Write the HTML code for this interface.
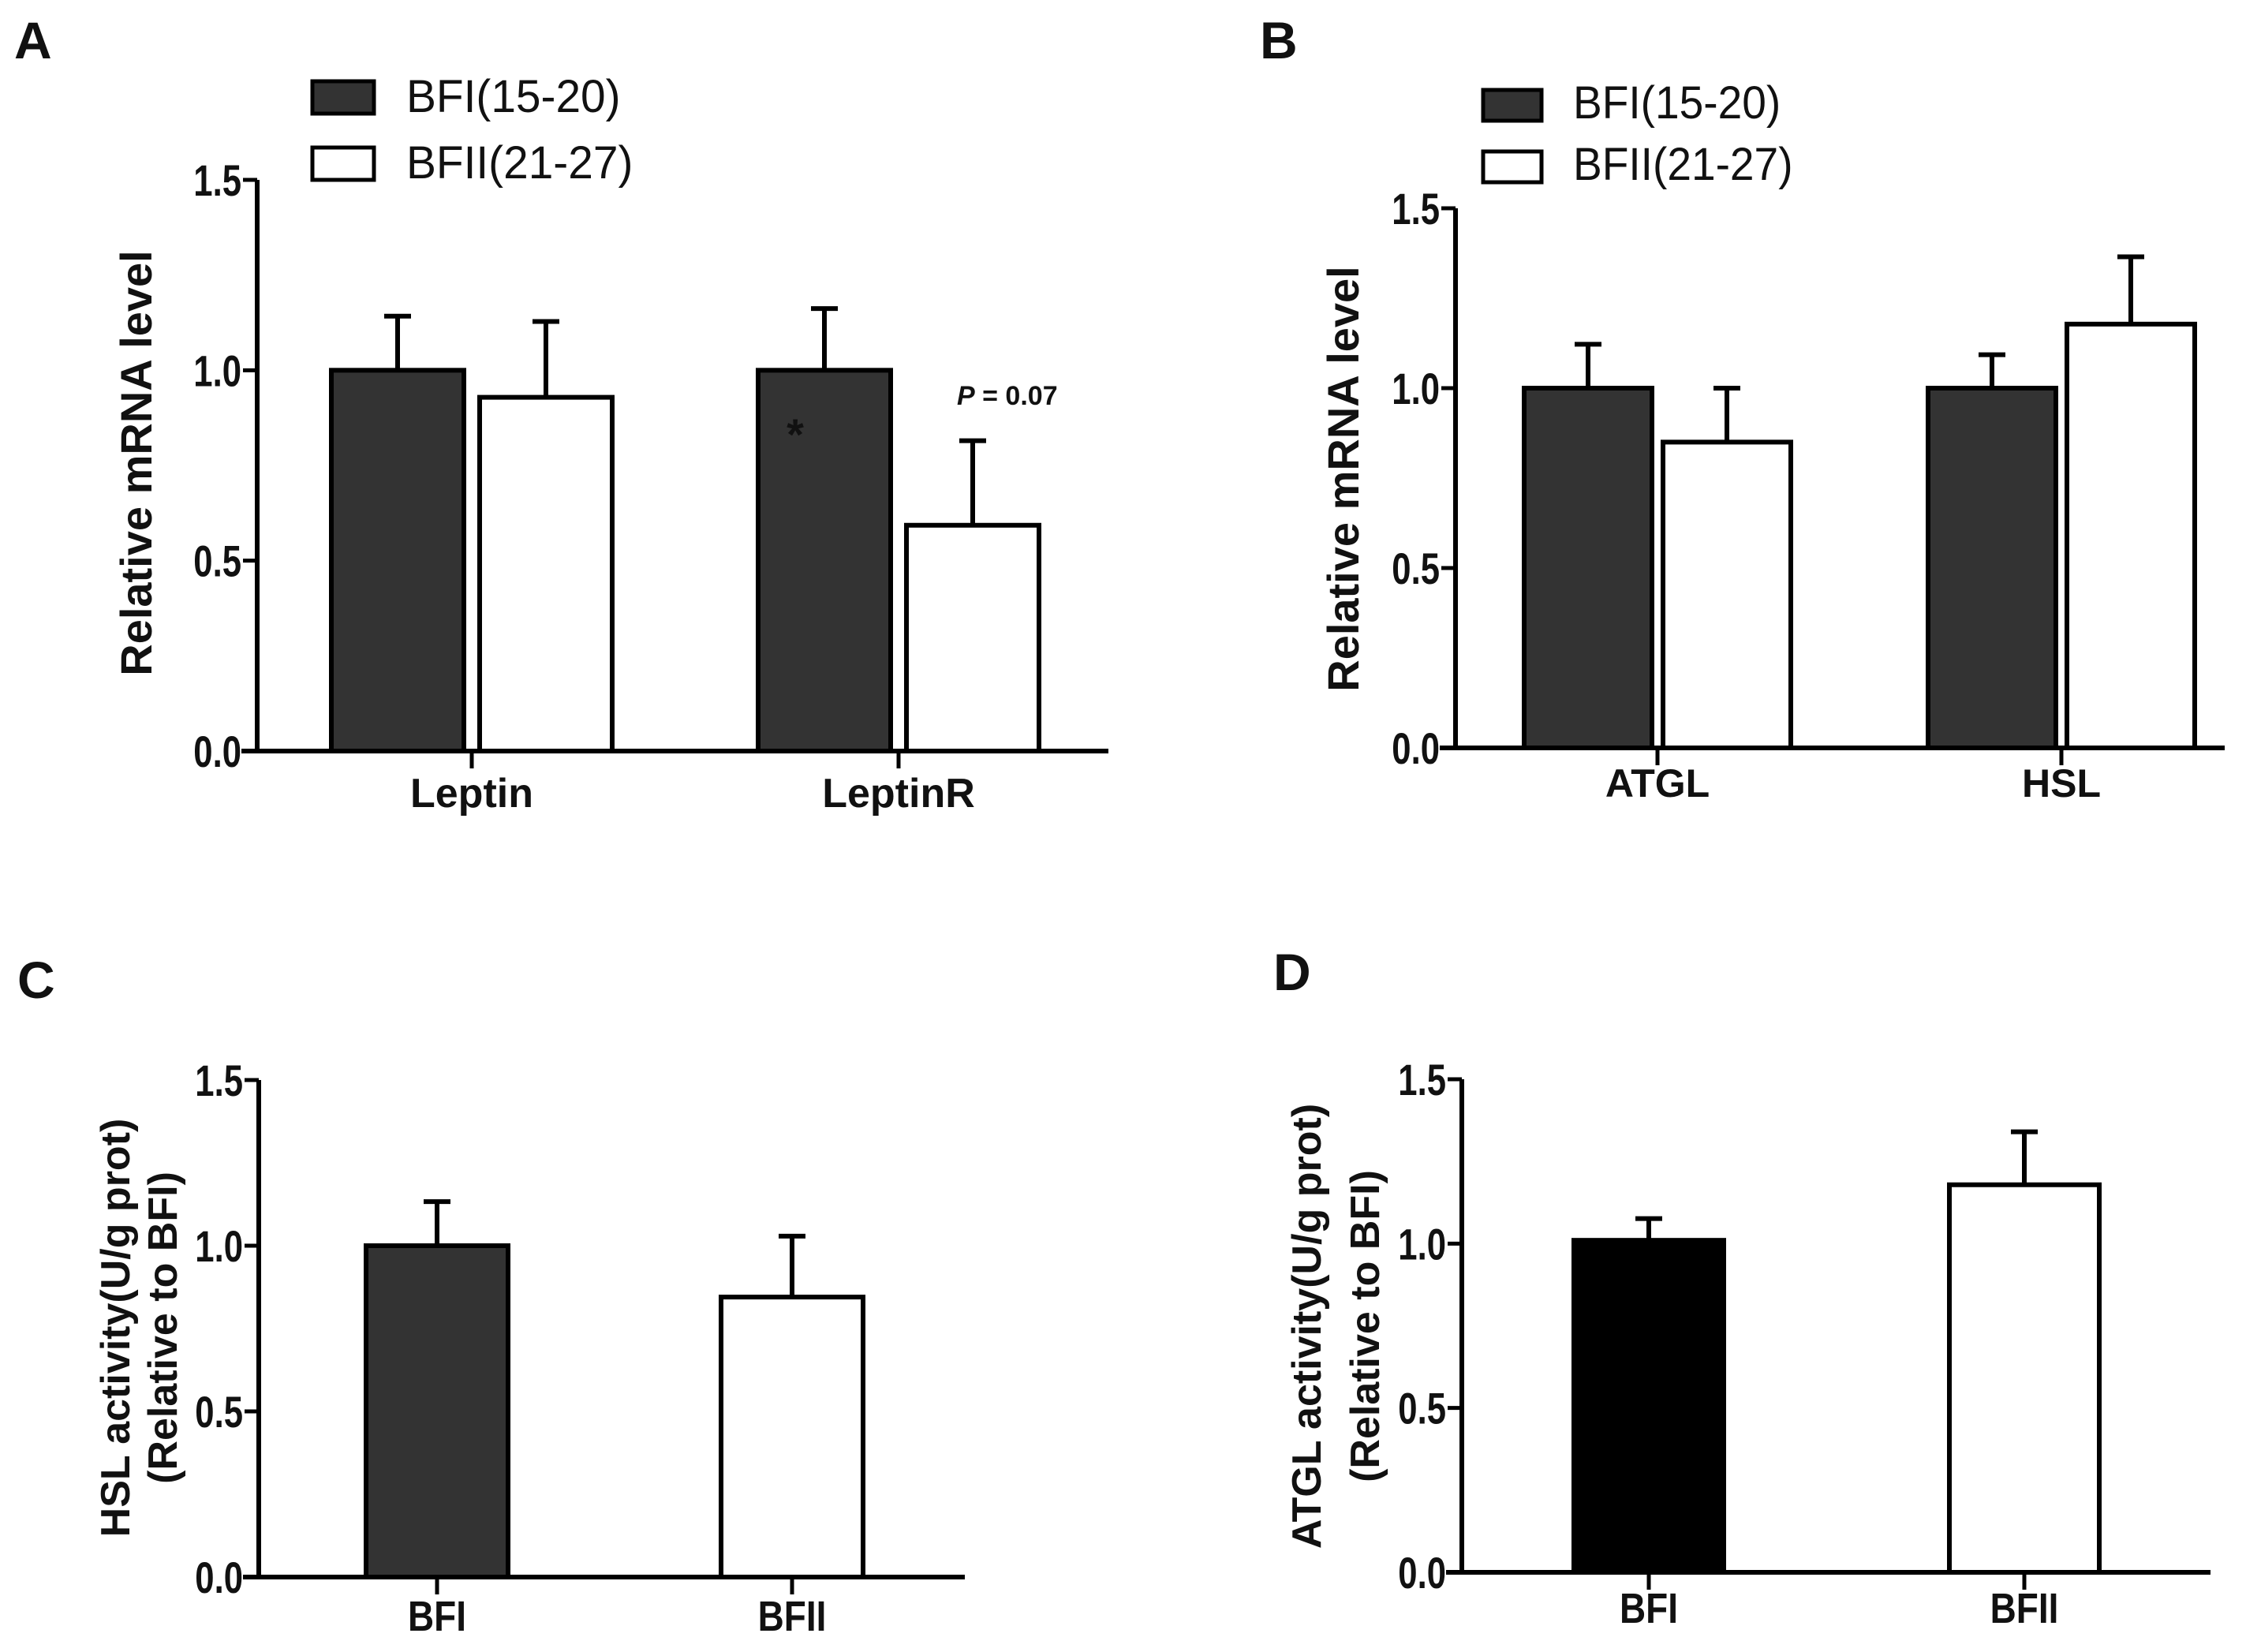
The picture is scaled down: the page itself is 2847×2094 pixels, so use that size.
<!DOCTYPE html>
<html><head><meta charset="utf-8"><style>
html,body{margin:0;padding:0;background:#fff;}
svg{display:block;}
text{font-family:"Liberation Sans",Arial,sans-serif;fill:#111;}
</style></head><body>
<svg id="fig" width="2847" height="2094" viewBox="0 0 2847 2094" xmlns="http://www.w3.org/2000/svg">
<text x="18" y="74" font-size="66" font-weight="bold">A</text>
<text x="1597" y="74" font-size="66" font-weight="bold">B</text>
<text x="22" y="1265" font-size="66" font-weight="bold">C</text>
<text x="1614" y="1255" font-size="66" font-weight="bold">D</text>
<g>
<rect x="396" y="103" width="78" height="41" fill="#333" stroke="#000" stroke-width="5"/>
<rect x="396" y="187" width="78" height="41" fill="#fff" stroke="#000" stroke-width="5"/>
<text x="515" y="142" font-size="58" transform="translate(515 0) scale(0.98 1) translate(-515 0)">BFI(15-20)</text>
<text x="515" y="226" font-size="58" transform="translate(515 0) scale(0.98 1) translate(-515 0)">BFII(21-27)</text>
</g>
<g>
<rect x="1880" y="114" width="74" height="39" fill="#333" stroke="#000" stroke-width="5"/>
<rect x="1880" y="192" width="74" height="39" fill="#fff" stroke="#000" stroke-width="5"/>
<text x="1994" y="150" font-size="58" transform="translate(1994 0) scale(0.95 1) translate(-1994 0)">BFI(15-20)</text>
<text x="1994" y="228" font-size="58" transform="translate(1994 0) scale(0.95 1) translate(-1994 0)">BFII(21-27)</text>
</g>
</svg>
<script>
const NS = "http://www.w3.org/2000/svg";
const svg = document.getElementById('fig');

// Panel A data
const catsA = ["Leptin", "LeptinR"];
const bfiA = [1.0, 1.0];
const bfiErrA = [0.142, 0.162];
const bfiiA = [0.929, 0.593];
const bfiiErrA = [0.199, 0.222];
// Panel B data
const catsB = ["ATGL", "HSL"];
const bfiB = [1.0, 1.0];
const bfiErrB = [0.122, 0.093];
const bfiiB = [0.85, 1.178];
const bfiiErrB = [0.15, 0.187];
// Panel C data
const catsC = ["BFI", "BFII"];
const valsC = [1.0, 0.845];
const errC = [0.133, 0.184];
// Panel D data
const catsD = ["BFI", "BFII"];
const valsD = [1.01, 1.179];
const errD = [0.066, 0.161];
const yTicks = [0, 0.5, 1.0, 1.5];
const yTickLabels = ["0.0", "0.5", "1.0", "1.5"];

function mk(tag, attrs, parent) {
  const el = document.createElementNS(NS, tag);
  for (const k in attrs) el.setAttribute(k, attrs[k]);
  (parent || svg).appendChild(el);
  return el;
}

function axes(p) {
  const g = mk('g', {});
  
  
  const y = v => p.y0 - (p.y0 - p.y15) * v / 1.5;
  const yax = mk('line', {x1: p.ax, y1: p.y15, x2: p.ax, y2: p.y0, stroke: '#000', 'stroke-width': 6}, g);
  
  
  const xax = mk('line', {x1: p.ax - 20, y1: p.y0, x2: p.xEnd, y2: p.y0, stroke: '#000', 'stroke-width': 6}, g);
  
  
  yTicks.forEach((t, i) => {
    mk('line', {x1: p.ax - 18, y1: y(t), x2: p.ax, y2: y(t), stroke: '#000', 'stroke-width': 5}, g);
    const tl = mk('text', {x: p.ax - 20, y: y(t) + 20, 'font-size': 56, 'font-weight': 'bold', 'text-anchor': 'end',
      transform: `translate(${p.ax - 20} 0) scale(0.78 1) translate(${-(p.ax - 20)} 0)`}, g);
    tl.textContent = yTickLabels[i];
    
    
  });
  p.tickX.forEach((tx, i) => {
    mk('line', {x1: tx, y1: p.y0, x2: tx, y2: p.y0 + 22, stroke: '#000', 'stroke-width': 5}, g);
    const cl = mk('text', {x: tx, y: p.catY, 'font-size': p.catSize, 'font-weight': 'bold', 'text-anchor': 'middle'}, g);
    if (p.catScale) cl.setAttribute('transform', `translate(${tx} 0) scale(${p.catScale} 1) translate(${-tx} 0)`);
    cl.textContent = p.cats[i];
    
    
  });
  p.ylab.forEach((l, i) => {
    const yl = mk('text', {x: l.x, y: p.ylabY, 'font-size': p.ylabSize, 'font-weight': 'bold', 'text-anchor': 'middle',
      transform: `rotate(-90 ${l.x} ${p.ylabY})`}, g);
    yl.textContent = l.t;
    
    
  });
  return {g, y};
}

function bar(g, y, x0, w, v, e, fill, y0) {
  const r = mk('rect', {x: x0, y: y(v), width: w, height: y0 - y(v), fill: fill, stroke: '#000', 'stroke-width': 6}, g);
  
  
  const cx = x0 + w / 2;
  const eb = mk('path', {d: `M${cx} ${y(v)}V${y(v + e)}M${cx - 17} ${y(v + e)}H${cx + 17}`, stroke: '#000', 'stroke-width': 6, fill: 'none'}, g);
  
  
}

// Panel A
(function () {
  const p = {name: 'panel-a-chart', ax: 326, y15: 228, y0: 952, xEnd: 1405, tickX: [598, 1139], cats: catsA, catY: 1023, catSize: 52,
    ylab: [{x: 192, t: 'Relative mRNA level'}], ylabY: 587, ylabSize: 56};
  const {g, y} = axes(p);
  const bw = 168;
  catsA.forEach((c, i) => {
    bar(g, y, p.tickX[i] - bw - 10, bw, bfiA[i], bfiErrA[i], '#333', p.y0);
    bar(g, y, p.tickX[i] + 10, bw, bfiiA[i], bfiiErrA[i], '#fff', p.y0);
  });
})();
// Panel B
(function () {
  const p = {name: 'panel-b-chart', ax: 1845, y15: 264, y0: 948, xEnd: 2820, tickX: [2101, 2613], cats: catsB, catY: 1010, catSize: 50,
    ylab: [{x: 1722, t: 'Relative mRNA level'}], ylabY: 607, ylabSize: 56};
  const {g, y} = axes(p);
  const bw = 162;
  catsB.forEach((c, i) => {
    bar(g, y, p.tickX[i] - bw - 7, bw, bfiB[i], bfiErrB[i], '#333', p.y0);
    bar(g, y, p.tickX[i] + 7, bw, bfiiB[i], bfiiErrB[i], '#fff', p.y0);
  });
})();
// Panel C
(function () {
  const p = {name: 'panel-c-chart', ax: 328, y15: 1369, y0: 1999, xEnd: 1223, tickX: [554, 1004], cats: catsC, catY: 2067, catSize: 54, catScale: 0.85,
    ylab: [{x: 164, t: 'HSL activity(U/g prot)'}, {x: 224, t: '(Relative to BFI)'}], ylabY: 1683, ylabSize: 52};
  const {g, y} = axes(p);
  const fills = ['#333', '#fff'];
  catsC.forEach((c, i) => bar(g, y, p.tickX[i] - 90, 180, valsC[i], errC[i], fills[i], p.y0));
})();
// Panel D
(function () {
  const p = {name: 'panel-d-chart', ax: 1853, y15: 1368, y0: 1993, xEnd: 2802, tickX: [2090, 2566], cats: catsD, catY: 2057, catSize: 54, catScale: 0.85,
    ylab: [{x: 1674, t: 'ATGL activity(U/g prot)'}, {x: 1748, t: '(Relative to BFI)'}], ylabY: 1681, ylabSize: 52};
  const {g, y} = axes(p);
  const fills = ['#000', '#fff'];
  catsD.forEach((c, i) => bar(g, y, p.tickX[i] - 95, 190, valsD[i], errD[i], fills[i], p.y0));
})();

// annotations on top of bars
const ast = mk('text', {x: 1008, y: 570, 'font-size': 56, 'font-weight': 'bold', 'text-anchor': 'middle', fill: '#000'});
ast.textContent = '*';


const pv = mk('text', {x: 1213, y: 513, 'font-size': 34, 'font-weight': 'bold'});
pv.innerHTML = '<tspan font-style="italic">P</tspan> =  0.07';


</script>
</body></html>
